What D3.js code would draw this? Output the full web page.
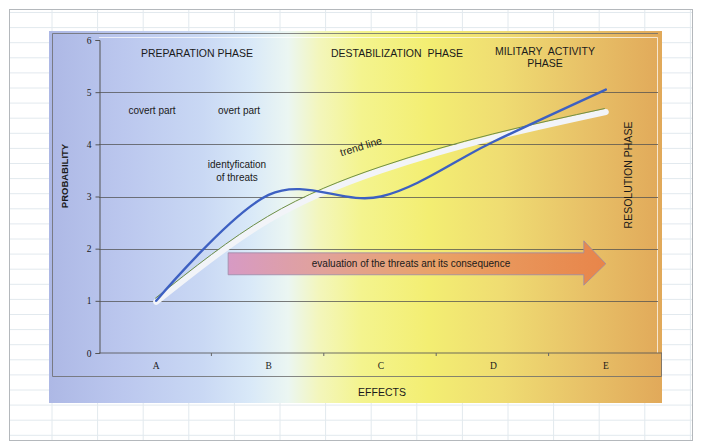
<!DOCTYPE html>
<html>
<head>
<meta charset="utf-8">
<script src="https://cdn.jsdelivr.net/npm/d3@7"></script>
<style>
  html, body { margin: 0; padding: 0; background: #ffffff; }
  svg { display: block; }
  text { font-family: "Liberation Sans", Arial, sans-serif; fill: #1a1a1a; }
  .tick-label { font-family: "Liberation Serif", "Times New Roman", serif; font-size: 9.5px; }
</style>
</head>
<body>
<svg id="chart" width="701" height="442"></svg>
<script>
// Effect categories along the horizontal axis
const categories = ["A", "B", "C", "D", "E"];
// Probability of the threat at each effect level
const threatProbability = [1.0, 3.03, 3.0, 4.05, 5.05];
// Fitted trend of the probability
const trendProbability = [0.98, 2.55, 3.5, 4.13, 4.62];
// Vertical axis ticks
const yTicks = [0, 1, 2, 3, 4, 5, 6];

const svg = d3.select("#chart");

// ---- sheet background with faint cell grid ----
const sheet = svg.append("g");
const colXs = d3.range(52, 700, 45.6);
const rowYs = d3.range(12.5, 442, 15.1);
sheet.selectAll("line.col").data(colXs).join("line")
  .attr("x1", d => d).attr("x2", d => d).attr("y1", 10).attr("y2", 440)
  .attr("stroke", "#e2e9ee").attr("stroke-width", 1);
sheet.selectAll("line.row").data(rowYs).join("line")
  .attr("x1", 10).attr("x2", 692).attr("y1", d => d).attr("y2", d => d)
  .attr("stroke", "#e2e9ee").attr("stroke-width", 1);
sheet.append("rect").attr("x", 9.5).attr("y", 9.5).attr("width", 683).attr("height", 431)
  .attr("fill", "none").attr("stroke", "#b4b8bc").attr("stroke-width", 1);

// ---- chart panel ----
const defs = svg.append("defs");
const bg = defs.append("linearGradient").attr("id", "panelGrad")
  .attr("x1", "0%").attr("x2", "100%").attr("y1", "0%").attr("y2", "0%");
[
  [0.00, "#adb8e5"],
  [0.12, "#bbc7ee"],
  [0.25, "#c9d8f4"],
  [0.33, "#d9e9f8"],
  [0.39, "#ebf6f2"],
  [0.44, "#f3f6bc"],
  [0.51, "#f4f48e"],
  [0.62, "#f3ee72"],
  [0.74, "#efdc72"],
  [0.87, "#e8c268"],
  [1.00, "#e1a95a"]
].forEach(([o, c]) => bg.append("stop").attr("offset", o).attr("stop-color", c));

const arrowGrad = defs.append("linearGradient").attr("id", "arrowGrad")
  .attr("x1", "0%").attr("x2", "100%").attr("y1", "0%").attr("y2", "0%");
[
  [0.00, "#d79ac4"],
  [0.25, "#e1a29a"],
  [0.55, "#e9a267"],
  [1.00, "#e8854a"]
].forEach(([o, c]) => arrowGrad.append("stop").attr("offset", o).attr("stop-color", c));

const panel = { x: 49, y: 31, w: 613, h: 372 };
svg.append("rect").attr("x", panel.x).attr("y", panel.y)
  .attr("width", panel.w).attr("height", panel.h).attr("fill", "url(#panelGrad)");

// panel inner frame and axis band
const frame = svg.append("g").attr("stroke", "#6b6b6b").attr("stroke-width", 1).attr("fill", "none").attr("opacity", 0.8);
frame.append("path").attr("d", "M52.5,376.5 L52.5,33.5 L658,33.5");
frame.append("path").attr("d", "M52.5,376.5 L661.5,376.5 L661.5,352.5");

// ---- scales ----
const plot = { left: 99, right: 658, top: 40, bottom: 353 };
const x = d3.scaleBand().domain(categories).range([100, 662]);
const xc = c => x(c) + x.bandwidth() / 2;
const y = d3.scaleLinear().domain([0, 6]).range([plot.bottom, plot.top]);

// plot area border (light)
svg.append("path").attr("d", `M${plot.left},37.5 L657.5,37.5 L657.5,${plot.bottom}`)
  .attr("fill", "none").attr("stroke", "#ffffff").attr("stroke-opacity", 0.7).attr("stroke-width", 1);

// horizontal gridlines
svg.append("g").selectAll("line").data(yTicks.filter(d => d > 0 && d < 6)).join("line")
  .attr("x1", plot.left).attr("x2", plot.right)
  .attr("y1", d => Math.round(y(d)) + 0.5).attr("y2", d => Math.round(y(d)) + 0.5)
  .attr("stroke", "#505050").attr("stroke-opacity", 0.75).attr("stroke-width", 1);

// y axis
const yAxis = d3.axisLeft(y).tickValues(yTicks).tickSize(4).tickPadding(4).tickFormat(d3.format("d"));
const yg = svg.append("g").attr("transform", `translate(${plot.left + 0.5},0)`).call(yAxis);
yg.select(".domain").attr("stroke", "#555");
yg.selectAll(".tick line").attr("stroke", "#555");
yg.selectAll(".tick text").attr("class", "tick-label").attr("fill", "#1a1a1a");

// x axis, its line running on into the bottom band
const xAxis = d3.axisBottom(x).tickSize(0).tickPadding(10);
const xg = svg.append("g").attr("transform", `translate(0,${plot.bottom - 0.5})`).call(xAxis);
xg.select(".domain").attr("stroke", "#555").attr("stroke-opacity", 0.85).attr("d", `M${plot.left},0.5H661.5`);
xg.selectAll(".tick text").attr("class", "tick-label").attr("fill", "#1a1a1a");
// category boundary ticks
svg.append("g").selectAll("line").data(categories.slice(1)).join("line")
  .attr("x1", d => x(d) - 1).attr("x2", d => x(d) - 1)
  .attr("y1", plot.bottom).attr("y2", plot.bottom + 3)
  .attr("stroke", "#666");

// ---- evaluation arrow ----
const step = x.step();
const ax0 = xc("A") + 0.64 * step;
const ax1 = xc("E");
const headW = 22;
const bTop = y(1.92), bBot = y(1.5), hTop = y(2.15), hBot = y(1.3), mid = (bTop + bBot) / 2;
svg.append("path")
  .attr("d", `M${ax0},${bTop} L${ax1 - headW},${bTop} L${ax1 - headW},${hTop} L${ax1},${mid} L${ax1 - headW},${hBot} L${ax1 - headW},${bBot} L${ax0},${bBot} Z`)
  .attr("fill", "url(#arrowGrad)").attr("stroke", "#9a8aa8").attr("stroke-width", 0.8);
svg.append("text").attr("x", 411).attr("y", mid + 3.5).attr("text-anchor", "middle")
  .attr("font-size", "10px").text("evaluation of the threats ant its consequence");

// ---- trend line (white band with green edge) ----
const line = d3.line().x((d, i) => xc(categories[i])).y(d => y(d));
const trendPath = line.curve(d3.curveNatural)(trendProbability);
svg.append("path").attr("d", trendPath).attr("fill", "none")
  .attr("stroke", "#f2f4f8").attr("stroke-width", 6).attr("stroke-linecap", "round");
svg.append("path").attr("d", trendPath).attr("fill", "none")
  .attr("transform", "translate(-1,-3.5)")
  .attr("stroke", "#6f8f46").attr("stroke-width", 1);

// ---- probability curve ----
const blueLine = d3.line().x((d, i) => xc(categories[i])).y(d => y(d)).curve(d3.curveCardinal.tension(0));
svg.append("path").attr("d", blueLine(threatProbability)).attr("fill", "none")
  .attr("stroke", "#3d60c2").attr("stroke-width", 2.4).attr("stroke-linecap", "round");

// ---- annotations ----
const ann = svg.append("g");
ann.append("text").attr("x", 197).attr("y", 57).attr("text-anchor", "middle").attr("font-size", "10.5px").text("PREPARATION PHASE");
ann.append("text").attr("x", 397).attr("y", 57).attr("text-anchor", "middle").attr("font-size", "10.5px")
  .attr("xml:space", "preserve").text("DESTABILIZATION  PHASE");
ann.append("text").attr("x", 545).attr("y", 55).attr("text-anchor", "middle").attr("font-size", "10.5px")
  .attr("xml:space", "preserve").text("MILITARY  ACTIVITY");
ann.append("text").attr("x", 545).attr("y", 67).attr("text-anchor", "middle").attr("font-size", "10.5px").text("PHASE");
ann.append("text").attr("x", 152).attr("y", 114).attr("text-anchor", "middle").attr("font-size", "10px").text("covert part");
ann.append("text").attr("x", 239).attr("y", 114).attr("text-anchor", "middle").attr("font-size", "10px").text("overt part");
ann.append("text").attr("x", 237).attr("y", 168).attr("text-anchor", "middle").attr("font-size", "10px").text("identyfication");
ann.append("text").attr("x", 237).attr("y", 181).attr("text-anchor", "middle").attr("font-size", "10px").text("of threats");
ann.append("text").attr("transform", "translate(362,150) rotate(-17)").attr("text-anchor", "middle")
  .attr("font-size", "10.5px").text("trend line");
ann.append("text").attr("transform", "translate(68,176) rotate(-90)").attr("text-anchor", "middle")
  .attr("font-size", "9.5px").attr("font-weight", "bold").attr("fill", "#222").text("PROBABILITY");
ann.append("text").attr("transform", "translate(632,175) rotate(-90)").attr("text-anchor", "middle")
  .attr("font-size", "10.5px").text("RESOLUTION PHASE");
ann.append("text").attr("x", 382).attr("y", 396).attr("text-anchor", "middle").attr("font-size", "10.5px").text("EFFECTS");
</script>
</body>
</html>
